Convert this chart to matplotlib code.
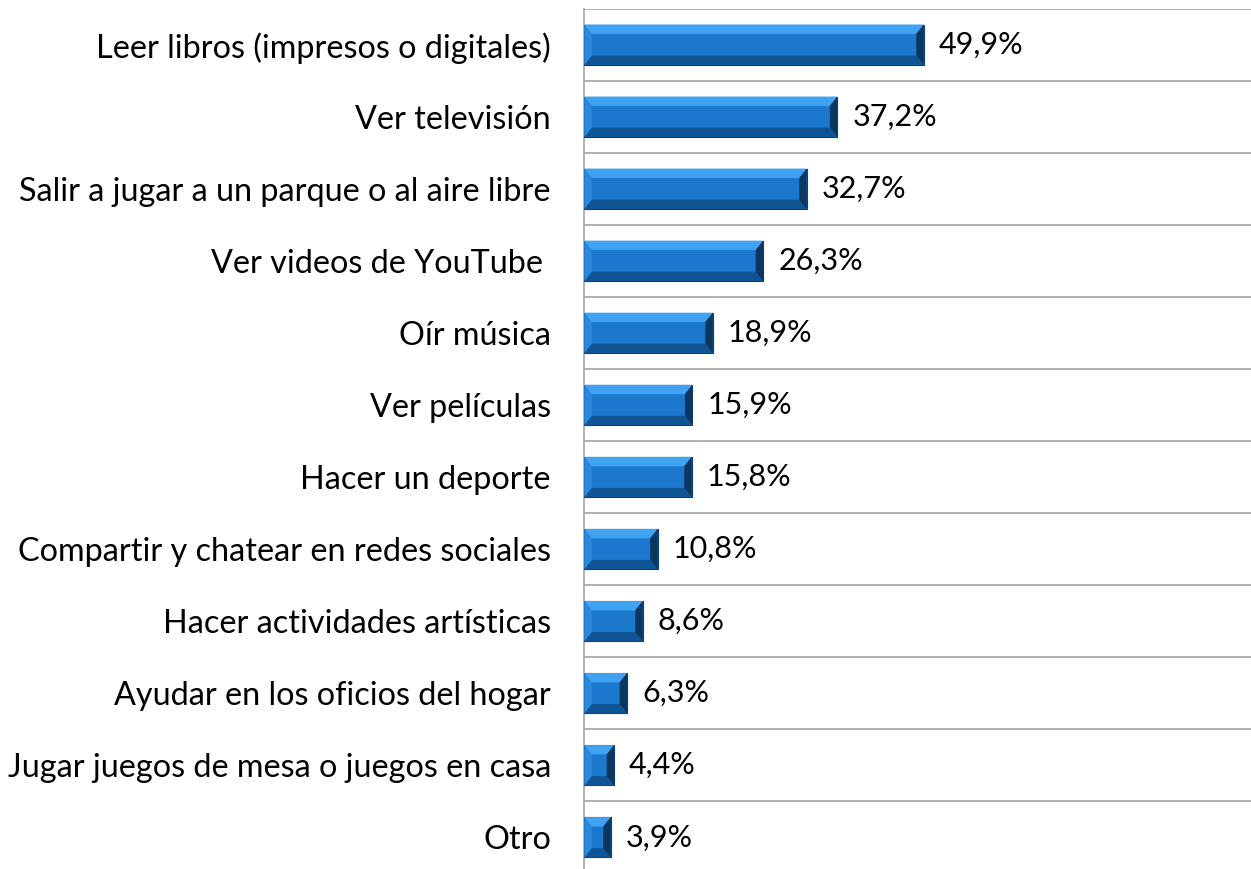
import matplotlib.pyplot as plt
from matplotlib.patches import Polygon

# Data
categories = [
    "Leer libros (impresos o digitales)",
    "Ver televisión",
    "Salir a jugar a un parque o al aire libre",
    "Ver videos de YouTube ",
    "Oír música",
    "Ver películas",
    "Hacer un deporte",
    "Compartir y chatear en redes sociales",
    "Hacer actividades artísticas",
    "Ayudar en los oficios del hogar",
    "Jugar juegos de mesa o juegos en casa",
    "Otro",
]
values = [49.9, 37.2, 32.7, 26.3, 18.9, 15.9, 15.8, 10.8, 8.6, 6.3, 4.4, 3.9]
labels = ["49,9%", "37,2%", "32,7%", "26,3%", "18,9%", "15,9%", "15,8%",
          "10,8%", "8,6%", "6,3%", "4,4%", "3,9%"]

plt.rcParams['font.family'] = ['Lato', 'DejaVu Sans']

fig = plt.figure(figsize=(12.51, 8.69), dpi=100)
ax = fig.add_axes([0.467, -0.005, 0.533, 0.995])

n = len(categories)
ypos = list(range(n))
bar_h = 0.56

ax.barh(ypos, values, height=bar_h, color="#1b78cc", edgecolor="#0b3f73",
        linewidth=0.8, zorder=3)

# bevel look (top light, bottom dark, right end dark)
dx = 1.1
dy = 0.13
for y, v in zip(ypos, values):
    x0, x1 = 0, v
    y0, y1 = y - bar_h / 2, y + bar_h / 2
    ix = min(dx, v / 3)
    top = Polygon([(x0, y0), (x1, y0), (x1 - ix, y0 + dy), (x0 + ix, y0 + dy)],
                  closed=True, color="#3fa2f2", zorder=4, lw=0)
    bot = Polygon([(x0, y1), (x1, y1), (x1 - ix, y1 - dy), (x0 + ix, y1 - dy)],
                  closed=True, color="#0f5596", zorder=4, lw=0)
    left = Polygon([(x0, y0), (x0 + ix, y0 + dy), (x0 + ix, y1 - dy), (x0, y1)],
                   closed=True, color="#2b88dc", zorder=4, lw=0)
    right = Polygon([(x1, y0), (x1 - ix, y0 + dy), (x1 - ix, y1 - dy), (x1, y1)],
                    closed=True, color="#0a3660", zorder=4, lw=0)
    for p in (top, bot, left, right):
        ax.add_patch(p)
    ax.text(v + 2.2, y, labels[y], va="center", ha="left", fontsize=22,
            color="black", zorder=5)

ax.set_ylim(n - 0.5, -0.5)
ax.set_xlim(0, 98)

# gridlines between categories
for b in range(n):
    ax.axhline(b - 0.5, color="#a6a6a6", lw=1.2, zorder=1)

ax.set_yticks(ypos)
ax.set_yticklabels(categories, fontsize=23.3)
ax.tick_params(axis="y", length=0, pad=24)
ax.set_xticks([])
for s in ["top", "right", "bottom"]:
    ax.spines[s].set_visible(False)
ax.spines["left"].set_color("#a6a6a6")
ax.spines["left"].set_linewidth(1.2)

fig.savefig("out.png", dpi=100)
